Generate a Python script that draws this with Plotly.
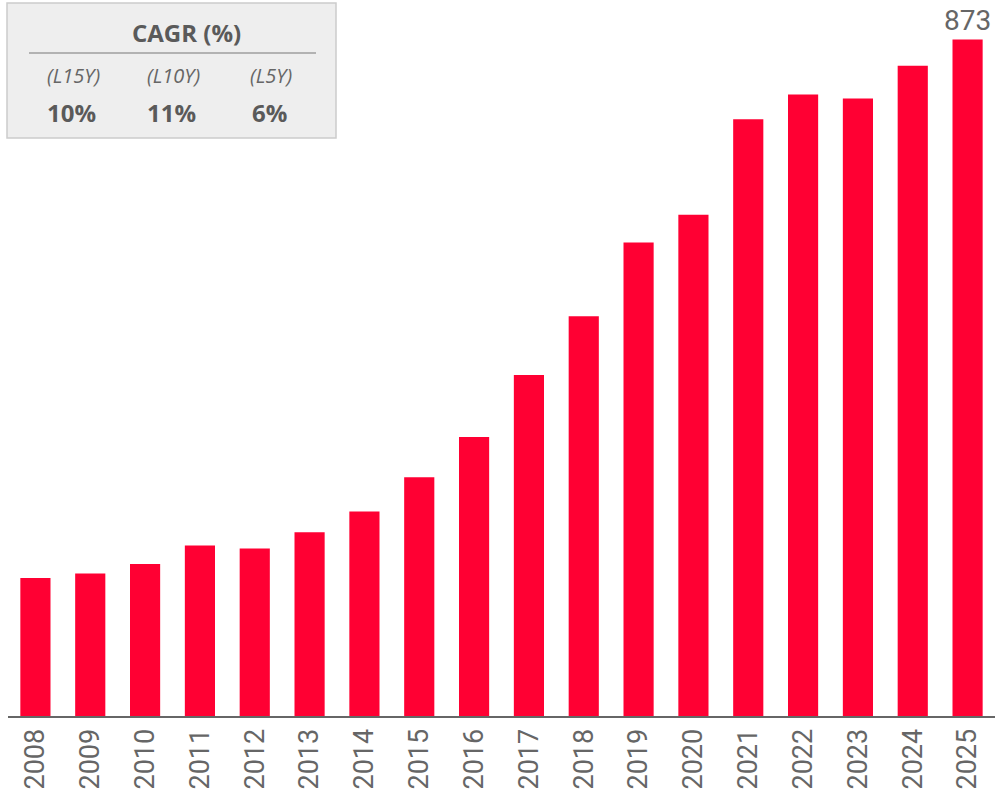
import plotly.graph_objects as go

years = [str(y) for y in range(2008, 2026)]
values = [178, 184, 196, 220, 216, 237, 264, 308, 360, 440, 516, 611, 647, 770, 802, 797, 839, 873]
label_texts = [""] * 17 + ["873"]

cagr_periods = ["(L15Y)", "(L10Y)", "(L5Y)"]
cagr_values = ["10%", "11%", "6%"]
cagr_title = "CAGR (%)"

W, H = 995, 794
L, R, T, B = 8, 0, 0, 78
PW, PH = W - L - R, H - T - B

def px(x):
    return (x - L) / PW

def py(y):
    return (H - B - y) / PH

RED = "#ff0033"
GRAY = "#666666"

fig = go.Figure()
fig.add_trace(go.Bar(
    x=years, y=values, marker_color=RED, marker_line_width=0,
    text=label_texts, textposition="outside", cliponaxis=False, constraintext="none",
    textfont=dict(family="Roboto", size=28, color=GRAY),
    hoverinfo="skip",
))

fig.update_layout(
    width=W, height=H, margin=dict(l=L, r=R, t=T, b=B),
    paper_bgcolor="white", plot_bgcolor="white",
    bargap=0.45, showlegend=False,
    xaxis=dict(type="category", tickangle=-90, showline=True, linecolor=GRAY, linewidth=2,
               tickfont=dict(family="Roboto", size=27, color=GRAY), showgrid=False,
               ticks="", ticklabelstandoff=0),
    yaxis=dict(range=[0, 873 * 716 / 676.5], visible=False, showgrid=False),
)

# CAGR box
fig.add_shape(type="rect", xref="paper", yref="paper",
              x0=px(7), x1=px(336), y0=py(138), y1=py(3),
              fillcolor="#eeeeee", line=dict(color="#cccccc", width=1.5), layer="above")
fig.add_shape(type="line", xref="paper", yref="paper",
              x0=px(29), x1=px(316), y0=py(53), y1=py(53),
              line=dict(color="#777777", width=1), layer="above")

BOXFONT = "Open Sans"
fig.add_annotation(xref="paper", yref="paper", x=px(186), y=py(33), text="<b>" + cagr_title + "</b>",
                   showarrow=False, font=dict(family=BOXFONT, size=24, color="#5a5a5a"),
                   xanchor="center", yanchor="middle")
for cx, per, val in zip([73, 173, 271], cagr_periods, cagr_values):
    fig.add_annotation(xref="paper", yref="paper", x=px(cx), y=py(75), text="<i>" + per + "</i>",
                       showarrow=False, font=dict(family=BOXFONT, size=20, color=GRAY),
                       xanchor="center", yanchor="middle")
    fig.add_annotation(xref="paper", yref="paper", x=px(cx - 2), y=py(113), text="<b>" + val + "</b>",
                       showarrow=False, font=dict(family=BOXFONT, size=24, color="#5a5a5a"),
                       xanchor="center", yanchor="middle")

fig.write_html("out.html", config={"displayModeBar": False},
               post_script="document.body.style.margin='0';")
